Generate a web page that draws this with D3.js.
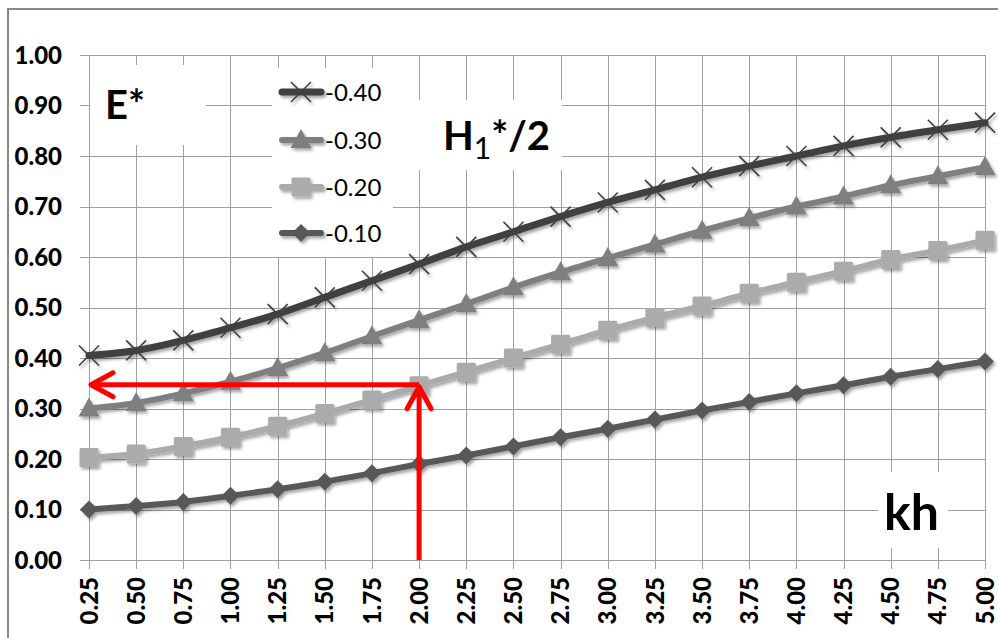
<!DOCTYPE html>
<html><head><meta charset="utf-8">
<script src="https://cdn.jsdelivr.net/npm/d3@7"></script>
<style>
html,body{margin:0;padding:0;background:#fff;}
svg{display:block;}
text{font-family:Lato,"Open Sans",sans-serif;}
</style></head>
<body>
<svg id="c" width="998" height="638"></svg>
<script>
const categories = ["0.25","0.50","0.75","1.00","1.25","1.50","1.75","2.00","2.25","2.50","2.75","3.00","3.25","3.50","3.75","4.00","4.25","4.50","4.75","5.00"];
const yTicks = [0,0.1,0.2,0.3,0.4,0.5,0.6,0.7,0.8,0.9,1.0];
const seriesNames = ["-0.40","-0.30","-0.20","-0.10"];
const s040 = [0.405,0.415,0.435,0.460,0.487,0.520,0.553,0.586,0.620,0.650,0.680,0.708,0.733,0.758,0.780,0.800,0.820,0.837,0.852,0.866];
const s030 = [0.300,0.311,0.330,0.353,0.380,0.410,0.443,0.475,0.507,0.540,0.570,0.598,0.625,0.652,0.677,0.700,0.720,0.742,0.760,0.778];
const s020 = [0.203,0.210,0.225,0.243,0.265,0.290,0.317,0.345,0.372,0.400,0.427,0.455,0.480,0.503,0.528,0.550,0.572,0.595,0.613,0.633];
const s010 = [0.100,0.107,0.115,0.127,0.140,0.155,0.172,0.190,0.207,0.225,0.243,0.260,0.278,0.296,0.313,0.330,0.346,0.363,0.378,0.393];
const arrowX = "2.00";
const arrowY = 0.347;

const svg = d3.select("#c");
const defs = svg.append("defs");
const f = defs.append("filter").attr("id","sh").attr("x","-20%").attr("y","-20%").attr("width","140%").attr("height","140%");
f.append("feDropShadow").attr("dx",2).attr("dy",2.5).attr("stdDeviation",1.6).attr("flood-color","#000").attr("flood-opacity",0.35);

// outer frame
svg.append("rect").attr("x",8).attr("y",9).attr("width",1000).attr("height",640)
  .attr("fill","none").attr("stroke","#888").attr("stroke-width",2);

const x = d3.scalePoint().domain(categories).range([89,985]);
const y = d3.scaleLinear().domain([0,1]).range([560,55]);

const grid = svg.append("g").attr("stroke","#a0a0a0").attr("stroke-width",1).attr("shape-rendering","crispEdges");
yTicks.forEach(t=>{
  grid.append("line").attr("x1",80).attr("x2",985).attr("y1",Math.round(y(t))+0.5).attr("y2",Math.round(y(t))+0.5);
});
categories.forEach(c=>{
  grid.append("line").attr("x1",Math.round(x(c))+0.5).attr("x2",Math.round(x(c))+0.5).attr("y1",y(1)).attr("y2",569);
});

// y labels
const yax = svg.append("g");
yTicks.forEach(t=>{
  yax.append("text").attr("x",62).attr("y",y(t)).attr("dy","0.36em").attr("text-anchor","end")
    .attr("font-weight","900").attr("font-size",24).attr("fill","#000").text(d3.format(".2f")(t));
});
// x labels
const xax = svg.append("g");
categories.forEach(c=>{
  xax.append("text").attr("transform",`translate(${x(c)},577) rotate(-90)`).attr("dy","0.36em")
    .attr("text-anchor","end").attr("font-weight","900").attr("font-size",24).attr("fill","#000").text(c);
});

// white text boxes covering grid
svg.append("rect").attr("x",90).attr("y",65).attr("width",116).attr("height",80).attr("fill","#fff");
svg.append("rect").attr("x",393).attr("y",100).attr("width",169).attr("height",70).attr("fill","#fff");
svg.append("rect").attr("x",878).attr("y",472).attr("width",70).attr("height",76).attr("fill","#fff");
svg.append("rect").attr("x",272).attr("y",68).attr("width",121).attr("height",189).attr("fill","#fff");

// markers
const markers = {
  x: (g,col)=>g.append("path").attr("d","M-10,-10L10,10M-10,10L10,-10").attr("stroke",col).attr("stroke-width",1.6).attr("fill","none"),
  tri: (g,col)=>g.append("path").attr("d","M0,-11L10.5,8L-10.5,8Z").attr("fill",col),
  sq: (g,col)=>g.append("rect").attr("x",-9.5).attr("y",-9.5).attr("width",19).attr("height",19).attr("rx",1.5).attr("fill",col),
  dia: (g,col)=>g.append("path").attr("d","M0,-9L9,0L0,9L-9,0Z").attr("fill",col)
};
const series = [
  {name:seriesNames[0], vals:s040, color:"#404040", marker:"x", lw:7},
  {name:seriesNames[1], vals:s030, color:"#7f7f7f", marker:"tri", lw:6},
  {name:seriesNames[2], vals:s020, color:"#ababab", marker:"sq", lw:6},
  {name:seriesNames[3], vals:s010, color:"#595959", marker:"dia", lw:6}
];
const line = d3.line().x((d,i)=>x(categories[i])).y(d=>y(d)).curve(d3.curveMonotoneX);
const plot = svg.append("g").attr("filter","url(#sh)");
series.slice().reverse().forEach(s=>{
  const g = plot.append("g");
  g.append("path").attr("d",line(s.vals)).attr("fill","none").attr("stroke",s.color)
    .attr("stroke-width",s.lw).attr("stroke-linejoin","round").attr("stroke-linecap","round");
  s.vals.forEach((v,i)=>{
    const m = g.append("g").attr("transform",`translate(${x(categories[i])},${y(v)})`);
    markers[s.marker](m,s.color);
  });
});

// legend
const lg = svg.append("g").attr("filter","url(#sh)");
const lgT = svg.append("g");
const legY = [92,140,187,233];
series.forEach((s,i)=>{
  lg.append("line").attr("x1",282).attr("x2",321).attr("y1",legY[i]).attr("y2",legY[i])
    .attr("stroke",s.color).attr("stroke-width",s.lw).attr("stroke-linecap","round");
  const m = lg.append("g").attr("transform",`translate(301,${legY[i]})`);
  markers[s.marker](m,s.color);
  lgT.append("text").attr("x",325).attr("y",legY[i]).attr("dy","0.36em").attr("font-size",24)
    .attr("fill","#000").text(s.name);
});

// red arrows
const red = svg.append("g").attr("stroke","#ff0000").attr("stroke-width",5).attr("fill","none");
const ax = x(arrowX), ay = y(arrowY);
red.append("line").attr("x1",ax).attr("x2",ax).attr("y1",y(0)).attr("y2",ay+2);
red.append("path").attr("d",`M${ax-12},${ay+24}L${ax},${ay+2}L${ax+12},${ay+24}`).attr("stroke-linecap","round").attr("stroke-linejoin","round");
red.append("line").attr("x1",ax).attr("x2",x(categories[0])+2).attr("y1",ay).attr("y2",ay);
red.append("path").attr("d",`M${x(categories[0])+24},${ay-12}L${x(categories[0])+2},${ay}L${x(categories[0])+24},${ay+12}`).attr("stroke-linecap","round").attr("stroke-linejoin","round");

// labels
svg.append("text").attr("x",105).attr("y",119).attr("font-size",40).attr("font-weight","bold").attr("fill","#000").text("E*");
const h = svg.append("text").attr("x",443).attr("y",150).attr("font-size",40).attr("font-weight","bold").attr("fill","#000");
h.append("tspan").text("H");
h.append("tspan").attr("dy",9).attr("font-size",30).attr("font-weight","normal").text("1");
h.append("tspan").attr("dy",-9).text("*/2");
svg.append("text").attr("x",884).attr("y",530).attr("font-size",50).attr("font-weight","bold").attr("fill","#000").text("kh");
</script>
</body></html>
